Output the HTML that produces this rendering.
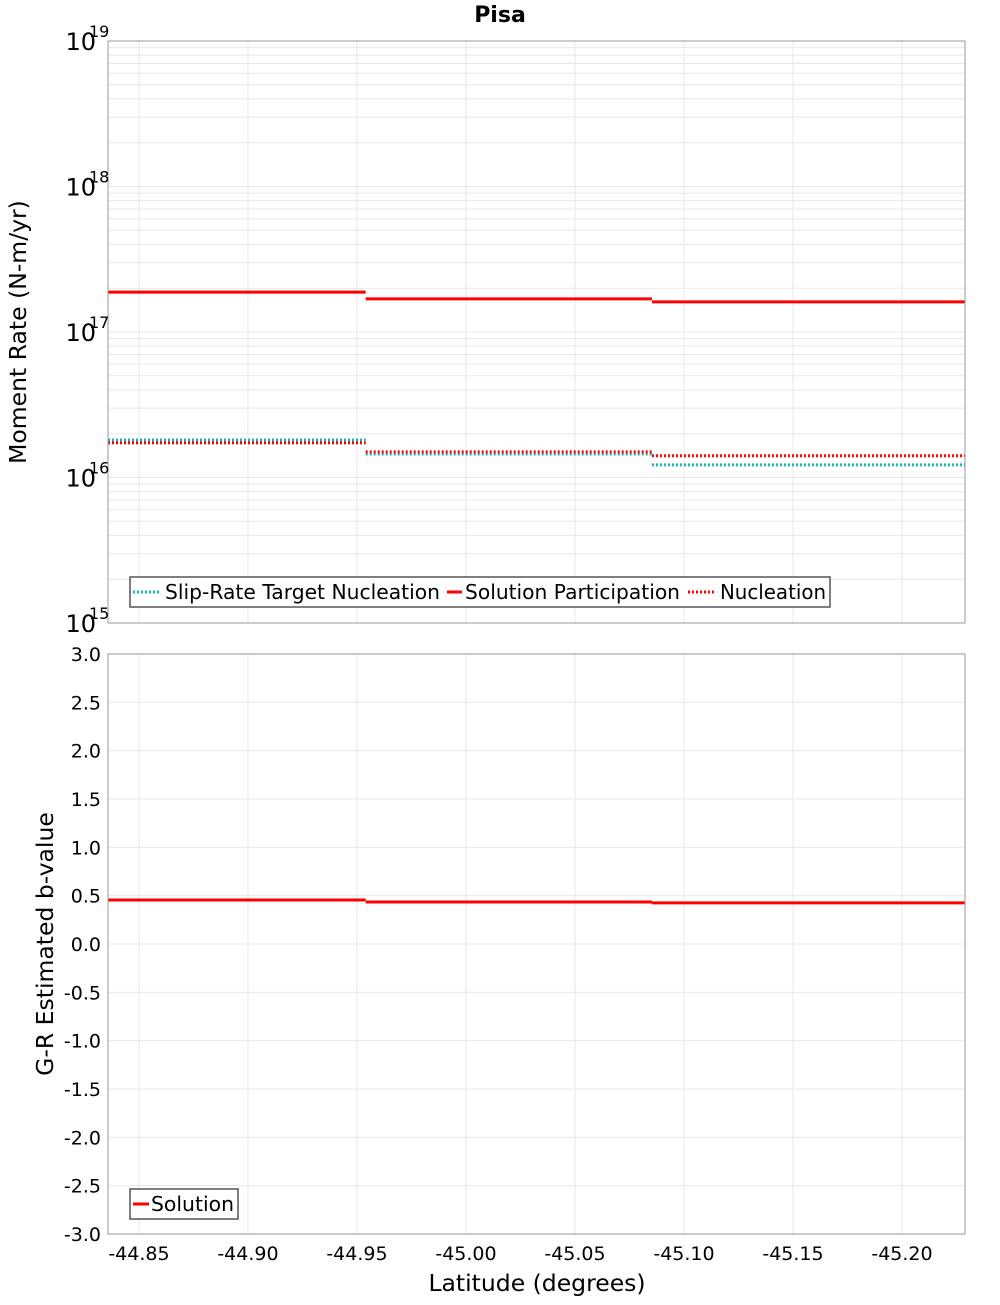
<!DOCTYPE html>
<html><head><meta charset="utf-8"><style>
body{margin:0;background:#fff;}
svg text{font-family:"DejaVu Sans","Liberation Sans",sans-serif;}
</style></head><body>
<svg id="c" width="1000" height="1300" xmlns="http://www.w3.org/2000/svg">
<text x="500" y="22" text-anchor="middle" font-size="22" font-weight="bold">Pisa</text>
<g id="g"></g>
</svg>
<script>
const breaks=[-44.8358,-44.954,-45.0853,-45.2289];
const slipTarget=[1.81e16,1.45e16,1.22e16];
const solutionPart=[1.88e17,1.69e17,1.61e17];
const nucleation=[1.73e16,1.50e16,1.41e16];
const bValues=[0.455,0.435,0.425];
const xTicks=[-44.85,-44.90,-44.95,-45.00,-45.05,-45.10,-45.15,-45.20];
const logDecades=[15,16,17,18,19];
const bTicks=[3.0,2.5,2.0,1.5,1.0,0.5,0.0,-0.5,-1.0,-1.5,-2.0,-2.5,-3.0];

const NS="http://www.w3.org/2000/svg";
const g=document.getElementById('g');
function mk(t,a,p){const e=document.createElementNS(NS,t);for(const k in a)e.setAttribute(k,a[k]);(p||g).appendChild(e);return e;}
const L=108,R=965,T1=41,B1=623,T2=654,B2=1234;
const xMin=-44.8358,xMax=-45.2289;
const X=v=>L+(v-xMin)/(xMax-xMin)*(R-L);
const Y1=v=>B1-(Math.log10(v)-15)/4*(B1-T1);
const Y2=v=>B2-(v+3)/6*(B2-T2);

let e=mk('rect',{x:L,y:T1,width:R-L,height:B1-T1,fill:'#fff'});

e=mk('rect',{x:L,y:T2,width:R-L,height:B2-T2,fill:'#fff'});


for(const t of xTicks){
  e=mk('line',{x1:X(t),x2:X(t),y1:T1,y2:B1,stroke:'#e8e8e8'});
  
  e=mk('line',{x1:X(t),x2:X(t),y1:T2,y2:B2,stroke:'#e8e8e8'});
  
}
for(let d=15;d<19;d++){for(let m=1;m<10;m++){
  const y=Y1(m*Math.pow(10,d));
  e=mk('line',{x1:L,x2:R,y1:y,y2:y,stroke:'#e8e8e8'});
  
}}
for(const t of bTicks){
  e=mk('line',{x1:L,x2:R,y1:Y2(t),y2:Y2(t),stroke:'#e8e8e8'});
  
}

function steps(vals,Y,color,dash,name){
  for(let i=0;i<vals.length;i++){
    const a={x1:X(breaks[i]),x2:X(breaks[i+1]),y1:Y(vals[i]),y2:Y(vals[i]),stroke:color,'stroke-width':3};
    if(dash)a['stroke-dasharray']='2,2';
    e=mk('line',a);
    
  }
}
steps(slipTarget,Y1,'#1bb5b5',true,'slip-rate-target-segment');
steps(nucleation,Y1,'#ff0000',true,'nucleation-segment');
steps(solutionPart,Y1,'#ff0000',false,'solution-participation-segment');
steps(bValues,Y2,'#ff0000',false,'b-value-segment');

e=mk('rect',{x:L,y:T1,width:R-L,height:B1-T1,fill:'none',stroke:'#999'});

e=mk('rect',{x:L,y:T2,width:R-L,height:B2-T2,fill:'none',stroke:'#999'});


for(const d of logDecades){
  const y=Y1(Math.pow(10,d));
  const t=mk('text',{x:96,y:y+9,'text-anchor':'end','font-size':24});
  t.textContent='10';
  
  const s=mk('text',{x:89,y:y-4,'font-size':16});
  s.textContent=String(d);
  
}
for(const t of bTicks){
  const tx=mk('text',{x:101,y:Y2(t)+7,'text-anchor':'end','font-size':19});
  tx.textContent=t.toFixed(1);
  
}
for(const t of xTicks){
  const tx=mk('text',{x:X(t),y:1260,'text-anchor':'middle','font-size':19});
  tx.textContent=t.toFixed(2);
  
}
e=mk('text',{x:537,y:1291,'text-anchor':'middle','font-size':23.5});e.textContent='Latitude (degrees)';

e=mk('text',{x:26,y:332,'text-anchor':'middle','font-size':23.5,transform:'rotate(-90 26 332)'});e.textContent='Moment Rate (N-m/yr)';

e=mk('text',{x:53,y:944,'text-anchor':'middle','font-size':23.5,transform:'rotate(-90 53 944)'});e.textContent='G-R Estimated b-value';


e=mk('rect',{x:130,y:577,width:700,height:30,fill:'#fff',stroke:'#555','stroke-width':1.5});

const leg=[['Slip-Rate Target Nucleation','#1bb5b5',true,133,165,275],['Solution Participation','#ff0000',false,447,465,215],['Nucleation','#ff0000',true,688,720,106]];
for(const [lab,c,d,x,tx,w] of leg){
  const a={x1:x,x2:x+28,y1:592,y2:592,stroke:c,'stroke-width':3};if(d)a['stroke-dasharray']='2,2';
  if(!d)a.x1=x, a.x2=x+15;
  e=mk('line',a);
  e=mk('text',{x:tx,y:599,'font-size':20,textLength:w,lengthAdjust:'spacingAndGlyphs'});e.textContent=lab;
  
}
e=mk('rect',{x:130,y:1189,width:108,height:30,fill:'#fff',stroke:'#555','stroke-width':1.5});

e=mk('line',{x1:133,x2:149,y1:1204,y2:1204,stroke:'#ff0000','stroke-width':3});

e=mk('text',{x:151,y:1211,'font-size':20,textLength:83,lengthAdjust:'spacingAndGlyphs'});e.textContent='Solution';

</script>
</body></html>
